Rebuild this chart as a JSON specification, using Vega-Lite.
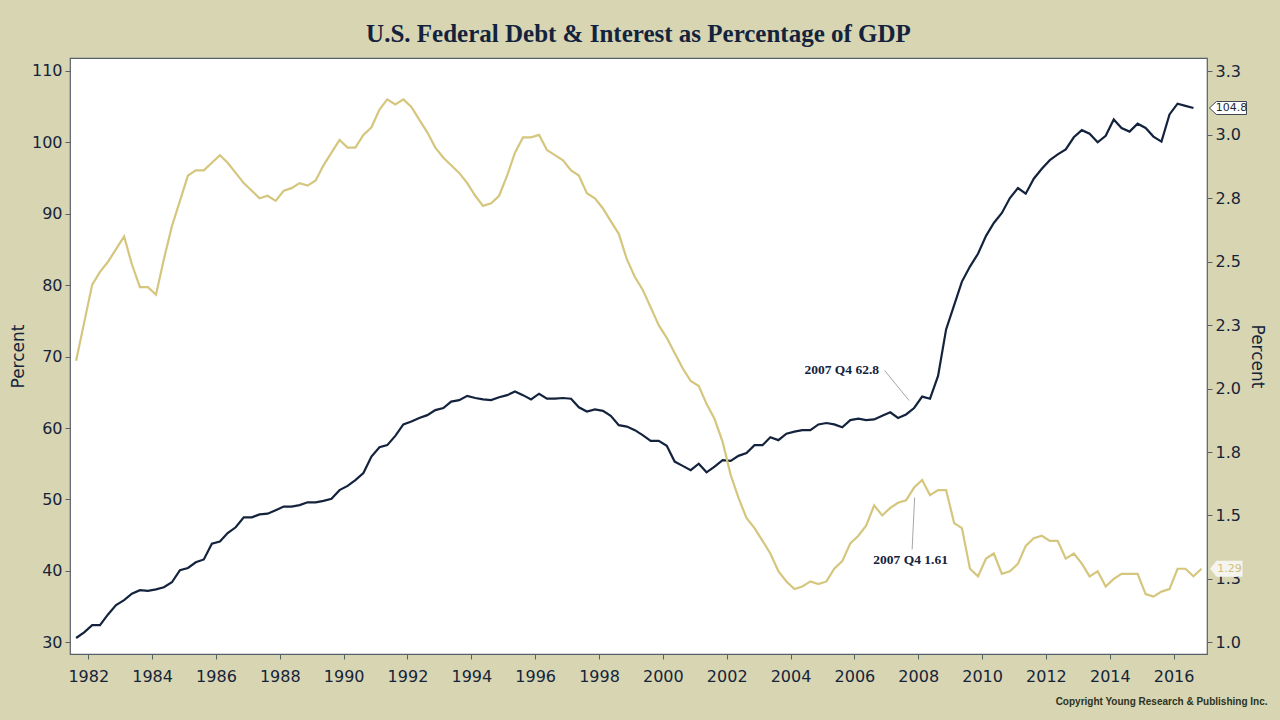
{
  "$schema": "https://vega.github.io/schema/vega-lite/v6.json",
  "description": "U.S. Federal Debt & Interest as Percentage of GDP",
  "autosize": {"type": "none"},
  "width": 1137,
  "height": 596,
  "padding": {"left": 70, "top": 58, "right": 73, "bottom": 66},
  "background": "#d8d5b3",
  "title": {
    "text": "U.S. Federal Debt & Interest as Percentage of GDP",
    "font": "Liberation Serif",
    "fontSize": 25,
    "fontWeight": "bold",
    "color": "#14233d",
    "anchor": "middle",
    "baseline": "bottom",
    "offset": 13,
    "dy": 27
  },
  "data": {
    "values": [
      {"q": "1981-08-15", "debt": 30.6, "interest": 2.11},
      {"q": "1981-11-15", "debt": 31.4, "interest": 2.26},
      {"q": "1982-02-15", "debt": 32.4, "interest": 2.41},
      {"q": "1982-05-15", "debt": 32.4, "interest": 2.46},
      {"q": "1982-08-15", "debt": 33.9, "interest": 2.50},
      {"q": "1982-11-15", "debt": 35.2, "interest": 2.55},
      {"q": "1983-02-15", "debt": 35.9, "interest": 2.60},
      {"q": "1983-05-15", "debt": 36.8, "interest": 2.49},
      {"q": "1983-08-15", "debt": 37.3, "interest": 2.40},
      {"q": "1983-11-15", "debt": 37.2, "interest": 2.40},
      {"q": "1984-02-15", "debt": 37.4, "interest": 2.37},
      {"q": "1984-05-15", "debt": 37.7, "interest": 2.51},
      {"q": "1984-08-15", "debt": 38.4, "interest": 2.64},
      {"q": "1984-11-15", "debt": 40.1, "interest": 2.74},
      {"q": "1985-02-15", "debt": 40.4, "interest": 2.84},
      {"q": "1985-05-15", "debt": 41.2, "interest": 2.86},
      {"q": "1985-08-15", "debt": 41.6, "interest": 2.86},
      {"q": "1985-11-15", "debt": 43.8, "interest": 2.89},
      {"q": "1986-02-15", "debt": 44.1, "interest": 2.92},
      {"q": "1986-05-15", "debt": 45.3, "interest": 2.89},
      {"q": "1986-08-15", "debt": 46.1, "interest": 2.85},
      {"q": "1986-11-15", "debt": 47.5, "interest": 2.81},
      {"q": "1987-02-15", "debt": 47.5, "interest": 2.78},
      {"q": "1987-05-15", "debt": 47.9, "interest": 2.75},
      {"q": "1987-08-15", "debt": 48.0, "interest": 2.76},
      {"q": "1987-11-15", "debt": 48.5, "interest": 2.74},
      {"q": "1988-02-15", "debt": 49.0, "interest": 2.78},
      {"q": "1988-05-15", "debt": 49.0, "interest": 2.79},
      {"q": "1988-08-15", "debt": 49.2, "interest": 2.81},
      {"q": "1988-11-15", "debt": 49.6, "interest": 2.80},
      {"q": "1989-02-15", "debt": 49.6, "interest": 2.82},
      {"q": "1989-05-15", "debt": 49.8, "interest": 2.88},
      {"q": "1989-08-15", "debt": 50.1, "interest": 2.93},
      {"q": "1989-11-15", "debt": 51.3, "interest": 2.98},
      {"q": "1990-02-15", "debt": 51.9, "interest": 2.95},
      {"q": "1990-05-15", "debt": 52.7, "interest": 2.95},
      {"q": "1990-08-15", "debt": 53.7, "interest": 3.00},
      {"q": "1990-11-15", "debt": 56.0, "interest": 3.03},
      {"q": "1991-02-15", "debt": 57.3, "interest": 3.10},
      {"q": "1991-05-15", "debt": 57.6, "interest": 3.14},
      {"q": "1991-08-15", "debt": 58.9, "interest": 3.12},
      {"q": "1991-11-15", "debt": 60.5, "interest": 3.14},
      {"q": "1992-02-15", "debt": 60.9, "interest": 3.11},
      {"q": "1992-05-15", "debt": 61.4, "interest": 3.06},
      {"q": "1992-08-15", "debt": 61.8, "interest": 3.01},
      {"q": "1992-11-15", "debt": 62.5, "interest": 2.95},
      {"q": "1993-02-15", "debt": 62.8, "interest": 2.91},
      {"q": "1993-05-15", "debt": 63.7, "interest": 2.88},
      {"q": "1993-08-15", "debt": 63.9, "interest": 2.85},
      {"q": "1993-11-15", "debt": 64.5, "interest": 2.81},
      {"q": "1994-02-15", "debt": 64.2, "interest": 2.76},
      {"q": "1994-05-15", "debt": 64.0, "interest": 2.72},
      {"q": "1994-08-15", "debt": 63.9, "interest": 2.73},
      {"q": "1994-11-15", "debt": 64.3, "interest": 2.76},
      {"q": "1995-02-15", "debt": 64.6, "interest": 2.84},
      {"q": "1995-05-15", "debt": 65.1, "interest": 2.93},
      {"q": "1995-08-15", "debt": 64.6, "interest": 2.99},
      {"q": "1995-11-15", "debt": 64.0, "interest": 2.99},
      {"q": "1996-02-15", "debt": 64.8, "interest": 3.00},
      {"q": "1996-05-15", "debt": 64.1, "interest": 2.94},
      {"q": "1996-08-15", "debt": 64.1, "interest": 2.92},
      {"q": "1996-11-15", "debt": 64.2, "interest": 2.90},
      {"q": "1997-02-15", "debt": 64.1, "interest": 2.86},
      {"q": "1997-05-15", "debt": 62.9, "interest": 2.84},
      {"q": "1997-08-15", "debt": 62.3, "interest": 2.77},
      {"q": "1997-11-15", "debt": 62.6, "interest": 2.75},
      {"q": "1998-02-15", "debt": 62.4, "interest": 2.71},
      {"q": "1998-05-15", "debt": 61.7, "interest": 2.66},
      {"q": "1998-08-15", "debt": 60.4, "interest": 2.61},
      {"q": "1998-11-15", "debt": 60.2, "interest": 2.51},
      {"q": "1999-02-15", "debt": 59.7, "interest": 2.44},
      {"q": "1999-05-15", "debt": 59.0, "interest": 2.39},
      {"q": "1999-08-15", "debt": 58.2, "interest": 2.32},
      {"q": "1999-11-15", "debt": 58.2, "interest": 2.25},
      {"q": "2000-02-15", "debt": 57.5, "interest": 2.20},
      {"q": "2000-05-15", "debt": 55.3, "interest": 2.14},
      {"q": "2000-08-15", "debt": 54.7, "interest": 2.08},
      {"q": "2000-11-15", "debt": 54.1, "interest": 2.03},
      {"q": "2001-02-15", "debt": 55.0, "interest": 2.01},
      {"q": "2001-05-15", "debt": 53.8, "interest": 1.94},
      {"q": "2001-08-15", "debt": 54.6, "interest": 1.88},
      {"q": "2001-11-15", "debt": 55.5, "interest": 1.79},
      {"q": "2002-02-15", "debt": 55.4, "interest": 1.66},
      {"q": "2002-05-15", "debt": 56.1, "interest": 1.57},
      {"q": "2002-08-15", "debt": 56.5, "interest": 1.49},
      {"q": "2002-11-15", "debt": 57.6, "interest": 1.45},
      {"q": "2003-02-15", "debt": 57.6, "interest": 1.40},
      {"q": "2003-05-15", "debt": 58.7, "interest": 1.35},
      {"q": "2003-08-15", "debt": 58.3, "interest": 1.28},
      {"q": "2003-11-15", "debt": 59.2, "interest": 1.24},
      {"q": "2004-02-15", "debt": 59.5, "interest": 1.21},
      {"q": "2004-05-15", "debt": 59.7, "interest": 1.22},
      {"q": "2004-08-15", "debt": 59.7, "interest": 1.24},
      {"q": "2004-11-15", "debt": 60.5, "interest": 1.23},
      {"q": "2005-02-15", "debt": 60.7, "interest": 1.24},
      {"q": "2005-05-15", "debt": 60.5, "interest": 1.29},
      {"q": "2005-08-15", "debt": 60.1, "interest": 1.32},
      {"q": "2005-11-15", "debt": 61.1, "interest": 1.39},
      {"q": "2006-02-15", "debt": 61.3, "interest": 1.42},
      {"q": "2006-05-15", "debt": 61.1, "interest": 1.46},
      {"q": "2006-08-15", "debt": 61.2, "interest": 1.54},
      {"q": "2006-11-15", "debt": 61.7, "interest": 1.50},
      {"q": "2007-02-15", "debt": 62.2, "interest": 1.53},
      {"q": "2007-05-15", "debt": 61.4, "interest": 1.55},
      {"q": "2007-08-15", "debt": 61.9, "interest": 1.56},
      {"q": "2007-11-15", "debt": 62.8, "interest": 1.61},
      {"q": "2008-02-15", "debt": 64.4, "interest": 1.64},
      {"q": "2008-05-15", "debt": 64.1, "interest": 1.58},
      {"q": "2008-08-15", "debt": 67.3, "interest": 1.60},
      {"q": "2008-11-15", "debt": 73.8, "interest": 1.60},
      {"q": "2009-02-15", "debt": 77.2, "interest": 1.47},
      {"q": "2009-05-15", "debt": 80.5, "interest": 1.45},
      {"q": "2009-08-15", "debt": 82.6, "interest": 1.29},
      {"q": "2009-11-15", "debt": 84.4, "interest": 1.26},
      {"q": "2010-02-15", "debt": 86.9, "interest": 1.33},
      {"q": "2010-05-15", "debt": 88.7, "interest": 1.35},
      {"q": "2010-08-15", "debt": 90.1, "interest": 1.27},
      {"q": "2010-11-15", "debt": 92.2, "interest": 1.28},
      {"q": "2011-02-15", "debt": 93.6, "interest": 1.31},
      {"q": "2011-05-15", "debt": 92.8, "interest": 1.38},
      {"q": "2011-08-15", "debt": 94.9, "interest": 1.41},
      {"q": "2011-11-15", "debt": 96.3, "interest": 1.42},
      {"q": "2012-02-15", "debt": 97.5, "interest": 1.40},
      {"q": "2012-05-15", "debt": 98.3, "interest": 1.40},
      {"q": "2012-08-15", "debt": 99.0, "interest": 1.33},
      {"q": "2012-11-15", "debt": 100.7, "interest": 1.35},
      {"q": "2013-02-15", "debt": 101.7, "interest": 1.31},
      {"q": "2013-05-15", "debt": 101.2, "interest": 1.26},
      {"q": "2013-08-15", "debt": 100.0, "interest": 1.28},
      {"q": "2013-11-15", "debt": 100.9, "interest": 1.22},
      {"q": "2014-02-15", "debt": 103.2, "interest": 1.25},
      {"q": "2014-05-15", "debt": 102.0, "interest": 1.27},
      {"q": "2014-08-15", "debt": 101.5, "interest": 1.27},
      {"q": "2014-11-15", "debt": 102.6, "interest": 1.27},
      {"q": "2015-02-15", "debt": 102.0, "interest": 1.19},
      {"q": "2015-05-15", "debt": 100.8, "interest": 1.18},
      {"q": "2015-08-15", "debt": 100.1, "interest": 1.20},
      {"q": "2015-11-15", "debt": 103.9, "interest": 1.21},
      {"q": "2016-02-15", "debt": 105.4, "interest": 1.29},
      {"q": "2016-05-15", "debt": 105.1, "interest": 1.29},
      {"q": "2016-08-15", "debt": 104.8, "interest": 1.26},
      {"q": "2016-11-15", "debt": null, "interest": 1.29}
    ]
  },
  "encoding": {
    "x": {
      "field": "q",
      "type": "temporal",
      "scale": {
        "type": "utc",
        "domain": [
          {"year": 1981, "month": 6, "date": 6, "utc": true},
          {"year": 2017, "month": 1, "date": 17, "utc": true}
        ]
      },
      "axis": {
        "title": "Copyright Young Research & Publishing Inc.",
        "titleFont": "Liberation Sans",
        "titleFontSize": 10,
        "titleFontWeight": "bold",
        "titleColor": "#2b3322",
        "titleAlign": "right",
        "titleAnchor": "end",
        "titleBaseline": "middle",
        "titleX": 1197,
        "titleY": 47,
        "format": "%Y",
        "tickCount": {"interval": "year", "step": 2},
        "labelFont": "DejaVu Sans",
        "labelFontSize": 16,
        "labelColor": "#15243a",
        "labelPadding": 9,
        "labelFlush": false,
        "tickColor": "#56606b",
        "tickSize": 5,
        "domain": false,
        "grid": false
      }
    }
  },
  "layer": [
    {
      "encoding": {
        "y": {
          "field": "debt",
          "type": "quantitative",
          "scale": {"domain": [28.36, 111.8], "nice": false, "zero": false},
          "axis": {
            "title": "Percent",
            "titleFont": "DejaVu Sans",
            "titleFontSize": 17,
            "titleFontWeight": "normal",
            "titleColor": "#15243a",
            "titlePadding": 4,
            "values": [30, 40, 50, 60, 70, 80, 90, 100, 110],
            "labelFont": "DejaVu Sans",
            "labelFontSize": 16,
            "labelColor": "#15243a",
            "labelPadding": 3,
            "tickColor": "#56606b",
            "tickSize": 5,
            "domain": false,
            "grid": false
          }
        }
      },
      "layer": [
        {
          "mark": {"type": "line", "color": "#14233d", "strokeWidth": 2.2}
        },
        {
          "transform": [{"filter": "utcyear(datum.q) == 2016 && utcquarter(datum.q) == 3"}],
          "mark": {
            "type": "point",
            "shape": "M 16 0 L 23 -6.5 L 53 -6.5 L 53 6.5 L 23 6.5 Z",
            "size": 4,
            "filled": true,
            "fill": "white",
            "stroke": "#3d4652",
            "strokeWidth": 1,
            "opacity": 1
          }
        },
        {
          "transform": [{"filter": "utcyear(datum.q) == 2016 && utcquarter(datum.q) == 3"}],
          "mark": {
            "type": "text",
            "font": "DejaVu Sans",
            "fontSize": 11,
            "color": "#1d2a3a",
            "align": "center",
            "baseline": "middle",
            "dx": 38
          },
          "encoding": {"text": {"field": "debt", "type": "quantitative", "format": ".1f"}}
        },
        {
          "transform": [{"filter": "utcyear(datum.q) == 2007 && utcquarter(datum.q) == 4"}],
          "mark": {
            "type": "point",
            "shape": "M -29.5 -37.5 L -5 -7.5",
            "size": 4,
            "filled": false,
            "color": "#a6a6a6",
            "strokeWidth": 1,
            "opacity": 1
          }
        },
        {
          "transform": [{"filter": "utcyear(datum.q) == 2007 && utcquarter(datum.q) == 4"}],
          "mark": {
            "type": "text",
            "text": "2007 Q4 62.8",
            "font": "Liberation Serif",
            "fontWeight": "bold",
            "fontSize": 13.5,
            "color": "#14233d",
            "align": "right",
            "baseline": "middle",
            "dx": -35,
            "dy": -38
          }
        }
      ]
    },
    {
      "encoding": {
        "y": {
          "field": "interest",
          "type": "quantitative",
          "scale": {"domain": [0.954, 3.303], "nice": false, "zero": false},
          "axis": {
            "orient": "right",
            "title": "Percent",
            "titleFont": "DejaVu Sans",
            "titleFontSize": 17,
            "titleFontWeight": "normal",
            "titleColor": "#15243a",
            "titlePadding": 7,
            "values": [1, 1.25, 1.5, 1.75, 2, 2.25, 2.5, 2.75, 3, 3.25],
            "format": ".1f",
            "labelFont": "DejaVu Sans",
            "labelFontSize": 16,
            "labelColor": "#15243a",
            "labelPadding": 3,
            "tickColor": "#56606b",
            "tickSize": 5,
            "domain": false,
            "grid": false
          }
        }
      },
      "layer": [
        {
          "mark": {"type": "line", "color": "#d5c67e", "strokeWidth": 2.2}
        },
        {
          "transform": [{"filter": "utcyear(datum.q) == 2016 && utcquarter(datum.q) == 4"}],
          "mark": {
            "type": "point",
            "shape": "M 8.5 0 L 15 -8 L 41 -8 L 41 8 L 15 8 Z",
            "size": 4,
            "filled": true,
            "fill": "#f5f4ef",
            "stroke": null,
            "opacity": 1
          }
        },
        {
          "transform": [{"filter": "utcyear(datum.q) == 2016 && utcquarter(datum.q) == 4"}],
          "mark": {
            "type": "text",
            "font": "DejaVu Sans",
            "fontSize": 11,
            "color": "#cfc07a",
            "align": "center",
            "baseline": "middle",
            "dx": 28
          },
          "encoding": {"text": {"field": "interest", "type": "quantitative", "format": ".2f"}}
        },
        {
          "transform": [{"filter": "utcyear(datum.q) == 2007 && utcquarter(datum.q) == 4"}],
          "mark": {
            "type": "point",
            "shape": "M 0.5 10 L -2 62",
            "size": 4,
            "filled": false,
            "color": "#a6a6a6",
            "strokeWidth": 1,
            "opacity": 1
          }
        },
        {
          "transform": [{"filter": "utcyear(datum.q) == 2007 && utcquarter(datum.q) == 4"}],
          "mark": {
            "type": "text",
            "text": "2007 Q4 1.61",
            "font": "Liberation Serif",
            "fontWeight": "bold",
            "fontSize": 13.5,
            "color": "#14233d",
            "align": "center",
            "baseline": "middle",
            "dx": -3.5,
            "dy": 72.5
          }
        }
      ]
    }
  ],
  "resolve": {"scale": {"y": "independent"}},
  "config": {
    "view": {"stroke": "#56606b", "strokeWidth": 1.2, "fill": "white"}
  }
}
